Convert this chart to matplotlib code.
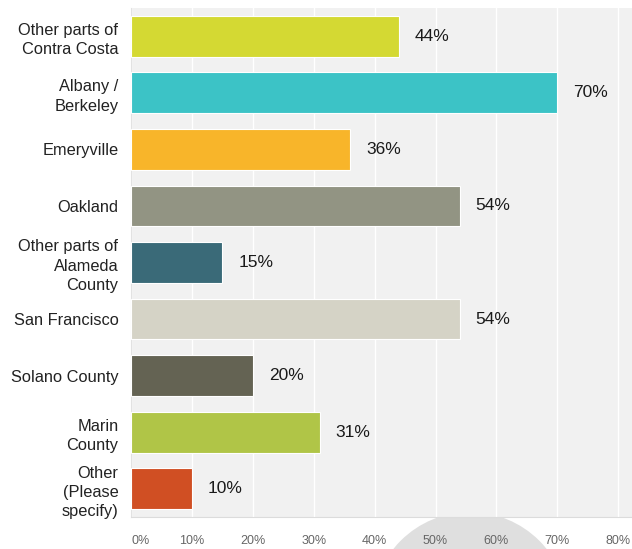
import matplotlib.pyplot as plt
from matplotlib.patches import Circle

plt.rcParams['font.family'] = ['Liberation Sans', 'DejaVu Sans']

categories = ["Other parts of\nContra Costa", "Albany /\nBerkeley", "Emeryville",
              "Oakland", "Other parts of\nAlameda\nCounty", "San Francisco",
              "Solano County", "Marin\nCounty", "Other\n(Please\nspecify)"]
values = [44, 70, 36, 54, 15, 54, 20, 31, 10]
colors = ["#d4d933", "#3cc3c6", "#f8b52a", "#929483", "#3a6a78",
          "#d5d3c6", "#646353", "#b0c547", "#d04f23"]
ticks = [0, 10, 20, 30, 40, 50, 60, 70, 80]

W, H = 632, 549
fig = plt.figure(figsize=(W / 100, H / 100), dpi=100)
ax = fig.add_axes([131 / W, 1 - 517 / H, (W - 131) / W, (517 - 8) / H])
ax.set_facecolor("#f1f1f1")

# grey blob under the axis (artifact in the original screenshot)
fig.patches.append(Circle((470, -61), 98, transform=None,
                          facecolor="#dfdfdf", edgecolor="none", zorder=-1))

y = list(range(len(categories)))
ax.barh(y, values, height=0.72, color=colors, edgecolor="#ffffff",
        linewidth=0.8, zorder=3)
for yi, v in zip(y, values):
    ax.text(v + 2.6, yi, f"{v}%", va="center", ha="left", fontsize=12.5,
            color="#1a1a1a", zorder=4)

ax.set_xlim(0, (W - 131) / 6.09)
ax.set_ylim(len(categories) - 0.5, -0.5)
ax.set_xticks(ticks)
ax.set_xticklabels([f"{t}%" for t in ticks], fontsize=9, color="#666666")
ax.get_xticklabels()[0].set_horizontalalignment("left")
ax.set_yticks(y)
ax.set_yticklabels(categories, fontsize=11.8, color="#222222", linespacing=1.35)
ax.tick_params(axis="x", length=0, pad=13)
ax.tick_params(axis="y", length=0, pad=9)
ax.grid(axis="x", color="#ffffff", linewidth=1, zorder=1)
ax.set_axisbelow(True)

for s in ["top", "right"]:
    ax.spines[s].set_visible(False)
ax.spines["left"].set_color("#e2e2e2")
ax.spines["bottom"].set_color("#dcdcdc")

fig.savefig("out.png", dpi=100)
